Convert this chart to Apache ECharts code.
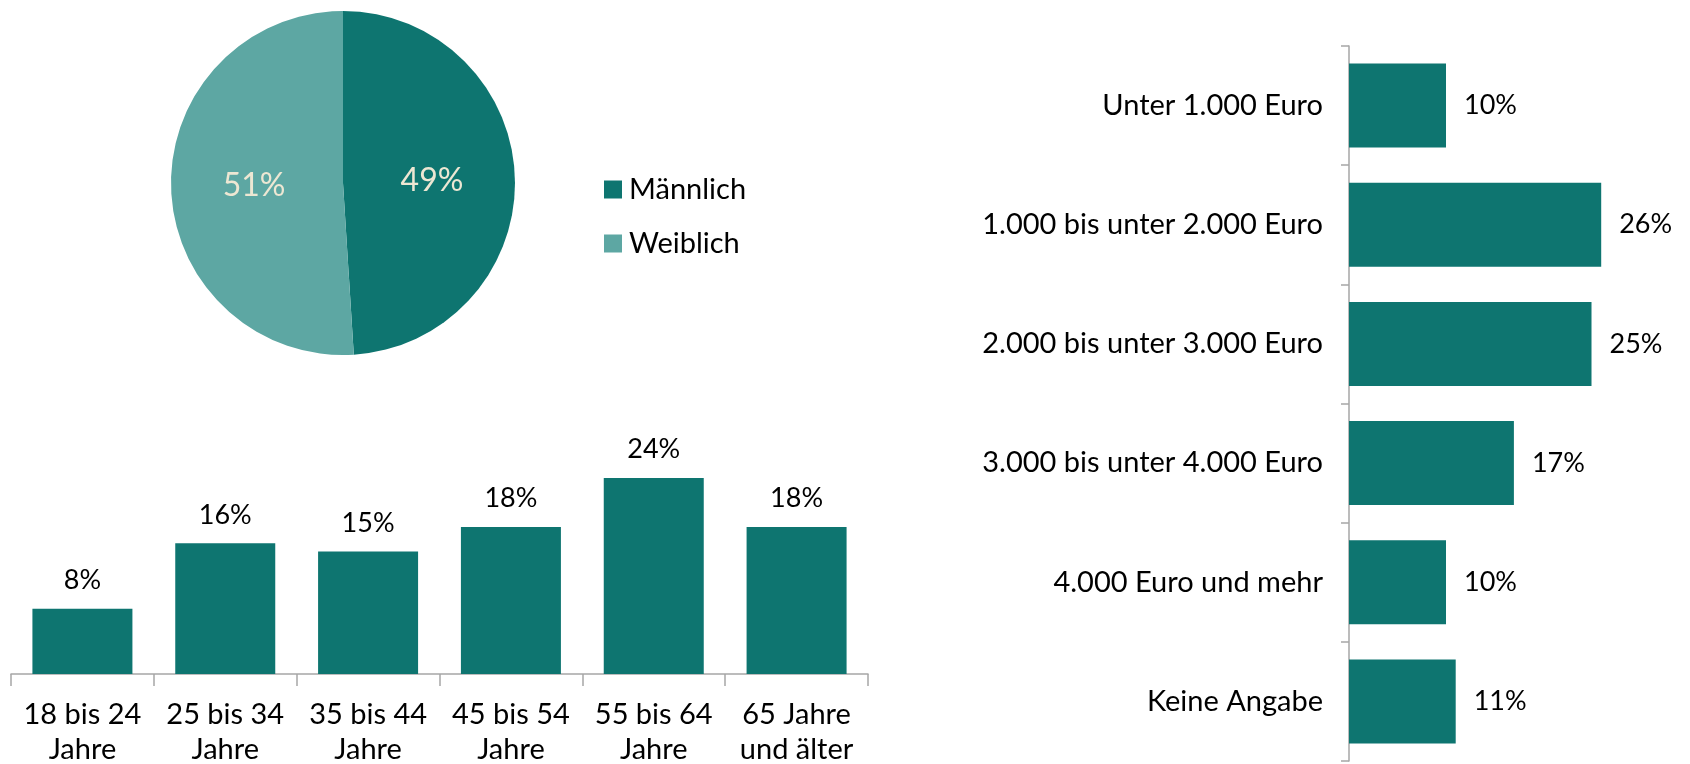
<!DOCTYPE html>
<html>
<head>
<meta charset="utf-8">
<script src="https://cdn.jsdelivr.net/npm/echarts@6.0.0/dist/echarts.min.js"></script>
<style>
html, body { margin: 0; padding: 0; background: #fff; }
#chart { width: 1690px; height: 764px; }
</style>
</head>
<body>
<div id="chart"></div>
<script>
const genderNames = ['Männlich', 'Weiblich'];
const genderValues = [49, 51];

const ageCategories = ['18 bis 24\nJahre', '25 bis 34\nJahre', '35 bis 44\nJahre', '45 bis 54\nJahre', '55 bis 64\nJahre', '65 Jahre\nund älter'];
const ageValues = [8, 16, 15, 18, 24, 18];

const incomeCategories = ['Unter 1.000 Euro', '1.000 bis unter 2.000 Euro', '2.000 bis unter 3.000 Euro', '3.000 bis unter 4.000 Euro', '4.000 Euro und mehr', 'Keine Angabe'];
const incomeValues = [10, 26, 25, 17, 10, 11];

const dark = '#0e7570';
const light = '#5da7a3';
const axisGray = '#a6a6a6';
const font = 'Lato';

const chart = echarts.init(document.getElementById('chart'));
chart.setOption({
    animation: false,
    textStyle: {fontFamily: font},
    legend: {
        orient: 'vertical',
        left: 599,
        top: 170,
        itemWidth: 18,
        itemHeight: 18,
        itemGap: 25,
        icon: 'rect',
        data: genderNames,
        textStyle: {fontSize: 29, color: '#000', fontFamily: font, padding: [0, 0, 0, 2]}
    },
    grid: [
        {left: 11, width: 857, top: 429, height: 245, outerBoundsMode: 'none'},
        {left: 1349, width: 291, top: 46, height: 715, outerBoundsMode: 'none'}
    ],
    xAxis: [
        {
            gridIndex: 0,
            type: 'category',
            data: ageCategories,
            axisLine: {lineStyle: {color: axisGray, width: 1.5}},
            axisTick: {show: true, length: 12, lineStyle: {color: axisGray, width: 1.5}},
            axisLabel: {color: '#000', fontSize: 29, lineHeight: 35, margin: 23, interval: 0, fontFamily: font}
        },
        {
            gridIndex: 1,
            type: 'value',
            min: 0,
            max: 30,
            show: false
        }
    ],
    yAxis: [
        {
            gridIndex: 0,
            type: 'value',
            min: 0,
            max: 30,
            show: false
        },
        {
            gridIndex: 1,
            type: 'category',
            inverse: true,
            data: incomeCategories,
            axisLine: {lineStyle: {color: axisGray, width: 1.5}},
            axisTick: {show: true, length: 8, lineStyle: {color: axisGray, width: 1.5}},
            axisLabel: {color: '#000', fontSize: 29, margin: 26, interval: 0, fontFamily: font}
        }
    ],
    series: [
        {
            type: 'pie',
            center: [343, 183],
            radius: 172,
            startAngle: 90,
            clockwise: true,
            color: [dark, light],
            label: {
                position: 'inside',
                formatter: '{c}%',
                fontSize: 32,
                color: '#ede7d3',
                fontFamily: font
            },
            labelLine: {show: false},
            emphasis: {disabled: true},
            data: genderNames.map((n, i) => ({name: n, value: genderValues[i]}))
        },
        {
            type: 'bar',
            xAxisIndex: 0,
            yAxisIndex: 0,
            barWidth: 100,
            itemStyle: {color: dark},
            label: {show: true, position: 'top', distance: 15, formatter: '{c}%', fontSize: 27, color: '#000', fontFamily: font},
            data: ageValues
        },
        {
            type: 'bar',
            xAxisIndex: 1,
            yAxisIndex: 1,
            barWidth: 84,
            itemStyle: {color: dark},
            label: {show: true, position: 'right', distance: 18, formatter: '{c}%', fontSize: 27, color: '#000', fontFamily: font},
            data: incomeValues
        }
    ]
});
</script>
</body>
</html>
